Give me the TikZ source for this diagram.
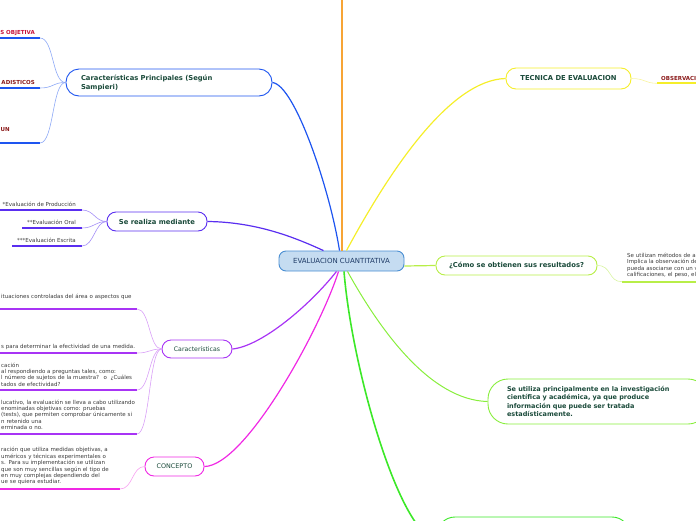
\documentclass[tikz,border=0pt]{standalone}
\usepackage{fontspec}
\setmainfont{DejaVu Sans}
\definecolor{tgreen}{HTML}{1A4A3A}
\definecolor{tgray}{HTML}{3A3A3A}
\definecolor{cblue}{HTML}{1E55F0}
\definecolor{cblueL}{HTML}{8EA9F6}
\definecolor{cviolet}{HTML}{5A2EF0}
\definecolor{cvioletL}{HTML}{A48EF6}
\definecolor{cpurple}{HTML}{A834F5}
\definecolor{cpurpleL}{HTML}{D9A0F7}
\definecolor{cmag}{HTML}{F028E4}
\definecolor{cmagL}{HTML}{F7A0F0}
\definecolor{cyel}{HTML}{F5EE2A}
\definecolor{cyelL}{HTML}{F8F4A0}
\definecolor{clime}{HTML}{B8EE48}
\definecolor{climeL}{HTML}{D8F4A0}
\definecolor{cgreen}{HTML}{88EE3C}
\definecolor{cgreen2}{HTML}{3CE828}
\definecolor{corange}{HTML}{F7A435}
\definecolor{cfill}{HTML}{C5DCF1}
\definecolor{cbord}{HTML}{4A8ED2}
\definecolor{ctext}{HTML}{1F3B66}
\definecolor{cred}{HTML}{C8143C}
\definecolor{cdred}{HTML}{8B1A1A}
\newcommand\fBold{\fontsize{6.8}{9}\selectfont\bfseries}
\newcommand\fInv{\fontsize{6.5}{8.3}\selectfont\bfseries}
\newcommand\fLeaf{\fontsize{5.5}{6.4}\selectfont}
\newcommand\fRed{\fontsize{5.5}{6.4}\selectfont\bfseries}
\begin{document}
\begin{tikzpicture}[x=1pt,y=-1pt,
  box/.style={draw, fill=white, line width=0.9pt, inner sep=0pt, text=tgreen, align=center},
  leaf/.style={inner sep=0pt, font=\fLeaf, text=tgray},
  block/.style={leaf, align=left, text width=220pt, anchor=base west},
  redleaf/.style={inner sep=0pt, font=\fRed},
  ul/.style={line width=1.4pt},
  sub/.style={line width=0.6pt},
  br/.style={line width=1.2pt}]
\clip (0,0) rectangle (696,520);
% ---- main nodes
\node[box, fill=cfill, draw=cbord, text=ctext, rounded corners=7pt, minimum width=125pt, minimum height=20pt, font=\fontsize{7}{9}\selectfont] (c) at (341.5,261) {EVALUACION CUANTITATIVA};
\node[box, draw=cblue, rounded corners=13pt, minimum width=206pt, minimum height=27pt, text width=176pt, align=left, font=\fBold] (cp) at (169,82.5) {Características Principales (Según\\Sampieri)};
\node[box, draw=cviolet, rounded corners=9pt, minimum width=100pt, minimum height=19pt, font=\fBold] (srm) at (157,221.5) {Se realiza mediante};
\node[box, draw=cpurple, rounded corners=9pt, minimum width=70pt, minimum height=18pt, font=\fontsize{6.2}{8}\selectfont] (car) at (197,349) {Características};
\node[box, draw=cmag, rounded corners=9pt, minimum width=59pt, minimum height=19pt, font=\fontsize{6.4}{8}\selectfont] (con) at (174.5,466.5) {CONCEPTO};
\node[box, draw=cyel, rounded corners=10pt, minimum width=125pt, minimum height=21pt, font=\fBold] (tec) at (568.5,78.5) {TECNICA DE EVALUACION};
\node[box, draw=clime, rounded corners=9pt, minimum width=161pt, minimum height=19pt, font=\fBold] (como) at (516.5,265.5) {¿Cómo se obtienen sus resultados?};
\node[box, draw=cgreen, rounded corners=20pt, minimum width=220pt, minimum height=45pt, text width=182pt, align=left, font=\fInv] (inv) at (598,401.5) {Se utiliza principalmente en la investigación\\científica y académica, ya que produce\\información que puede ser tratada\\estadísticamente.};
\node[box, draw=cgreen2, rounded corners=18pt, minimum width=193pt, minimum height=46pt] (bot) at (533.5,540) {};
% ---- main branches
\coordinate (top) at (342,-3);
\draw[br, corange] (top) -- ([xshift=0.5pt]c.north);
\draw[br, cblue] ([xshift=-2pt]c.north) .. controls (330,190) and (295,85) .. (cp.east);
\draw[br, cviolet] ([xshift=-18pt]c.north) .. controls (300,240) and (260,222) .. (srm.east);
\draw[br, cpurple] ([xshift=-5pt]c.south) .. controls (310,305) and (262,346) .. (car.east);
\draw[br, cmag] ([xshift=-3pt]c.south) .. controls (320,330) and (245,466) .. (con.east);
\draw[br, cgreen2, line width=1.6pt] ([xshift=2.5pt]c.south) .. controls (352,370) and (400,535) .. (bot.west);
\draw[br, cgreen, line width=1pt] ([xshift=6pt]c.south) .. controls (380,330) and (430,400) .. (inv.west);
\draw[br, cyel] ([xshift=5pt]c.north) .. controls (390,170) and (450,80) .. (tec.west);
\draw[br, clime] ([yshift=-5pt]c.east) -- (como.west);
% ---- leaves of cp
\coordinate (cp1) at (40,38);
\coordinate (cp2) at (40,88);
\coordinate (cp3) at (40,143);
\draw[ul, cblue] (-5,38) -- (cp1);
\draw[ul, cblue] (-5,88) -- (cp2);
\draw[ul, cblue] (-5,143) -- (cp3);
\node[redleaf, text=cred, anchor=base east] (cpt1) at (35,34.3) {S OBJETIVA};
\node[redleaf, text=cdred, anchor=base east] (cpt2) at (35,84) {ADISTICOS};
\node[redleaf, text=cdred, anchor=base east] (cpt3) at (10,131.7) {UN};
\draw[sub, cblueL] (cp.west) .. controls (52,82.5) and (54,38) .. (cp1);
\draw[sub, cblueL] (cp.west) .. controls (52,82.5) and (54,88) .. (cp2);
\draw[sub, cblueL] (cp.west) .. controls (52,82.5) and (54,143) .. (cp3);
% ---- leaves of srm
\coordinate (s1) at (82,210);
\coordinate (s2) at (82,228);
\coordinate (s3) at (82,246);
\draw[ul, cviolet] (-2,210) -- (s1);
\draw[ul, cviolet] (22,228) -- (s2);
\draw[ul, cviolet] (12,246) -- (s3);
\node[leaf, anchor=base east] (st1) at (76,206) {*Evaluación de Producción};
\node[leaf, anchor=base east] (st2) at (76,224) {**Evaluación Oral};
\node[leaf, anchor=base east] (st3) at (76,242) {***Evaluación Escrita};
\draw[sub, cvioletL] (srm.west) .. controls (95,221.5) and (94,210) .. (s1);
\draw[sub, cvioletL] (srm.west) .. controls (95,221.5) and (94,228) .. (s2);
\draw[sub, cvioletL] (srm.west) .. controls (95,221.5) and (94,246) .. (s3);
% ---- leaves of car
\coordinate (k1) at (137,309);
\coordinate (k2) at (137,353);
\coordinate (k3) at (137,390);
\coordinate (k4) at (137,434);
\draw[ul, cpurple] (-2,309) -- (k1);
\draw[ul, cpurple] (-2,353) -- (k2);
\draw[ul, cpurple] (-2,390) -- (k3);
\draw[ul, cpurple] (-2,434) -- (k4);
\node[block] (kt1) at (1,298) {ituaciones controladas del área o aspectos que};
\node[block] (kt2) at (1,348.5) {s para determinar la efectividad de una medida.};
\node[block] (kt3) at (1,367) {cación\\al respondiendo a preguntas tales, como:\\l número de sujetos de la muestra?~ o~ ¿Cuáles\\tados de efectividad?};
\node[block] (kt4) at (1,404) {lucativo, la evaluación se lleva a cabo utilizando\\enominadas objetivas como: pruebas\\ (tests), que permiten comprobar únicamente si\\n retenido una\\erminada o no.};
\draw[sub, cpurpleL] (car.west) .. controls (149,349) and (150,309) .. (k1);
\draw[sub, cpurpleL] (car.west) .. controls (149,349) and (150,353) .. (k2);
\draw[sub, cpurpleL] (car.west) .. controls (149,349) and (150,390) .. (k3);
\draw[sub, cpurpleL] (car.west) .. controls (149,349) and (150,434) .. (k4);
% ---- leaf of con
\coordinate (n1) at (120,489);
\draw[ul, cmag] (-2,489) -- (n1);
\node[block, text width=200pt] (nt1) at (1,451.8) {ración que utiliza medidas objetivas, a\\uméricos y técnicas experimentales o\\s. Para su implementación se utilizan\\que son muy sencillas según el tipo de\\en muy complejas dependiendo del\\ue se quiera estudiar.};
\draw[sub, cmagL] (con.west) .. controls (132,466.5) and (133,489) .. (n1);
% ---- leaf of tec
\coordinate (t1) at (657,83.3);
\draw[ul, cyel, line width=1.8pt] (t1) -- (700,83.3);
\node[redleaf, text=cdred, anchor=base west] (tt1) at (661,80.3) {OBSERVACI};
\draw[sub, cyelL] (tec.east) .. controls (645,78.5) and (645,83.3) .. (t1);
% ---- leaf of como
\coordinate (m1) at (622,281.7);
\draw[ul, clime, line width=1.6pt] (m1) -- (700,281.7);
\node[block, text width=120pt] (mt1) at (627,257.5) {Se utilizan métodos de a\\Implica la observación de\\pueda asociarse con un v\\calificaciones, el peso, el};
\draw[sub, climeL] (como.east) .. controls (612,265.5) and (608,281.7) .. (m1);
\end{tikzpicture}
\end{document}
